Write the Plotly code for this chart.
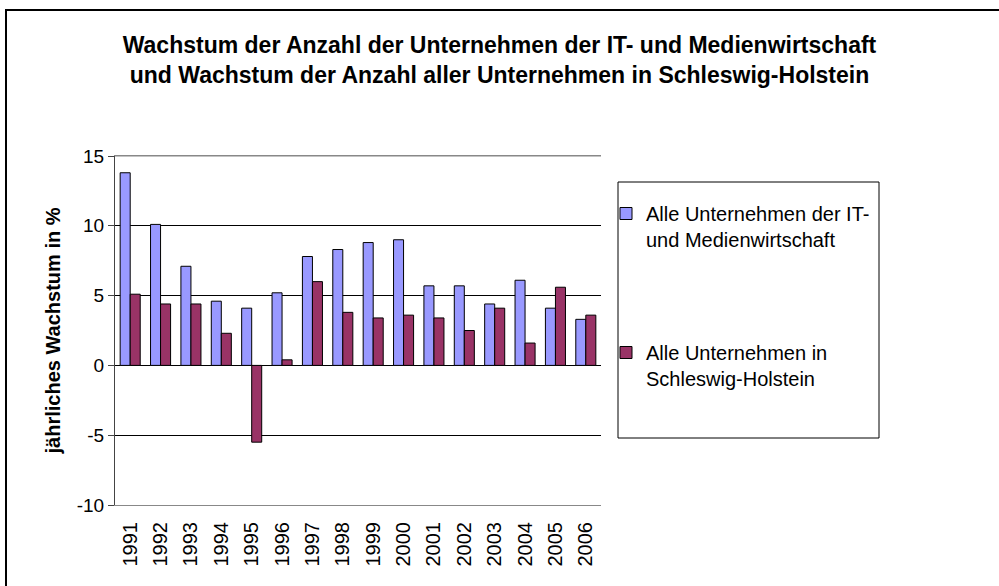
import plotly.graph_objects as go

# ---- data ----
years = ["1991", "1992", "1993", "1994", "1995", "1996", "1997", "1998",
         "1999", "2000", "2001", "2002", "2003", "2004", "2005", "2006"]
it_media = [13.8, 10.1, 7.1, 4.6, 4.1, 5.2, 7.8, 8.3, 8.8, 9.0, 5.7, 5.7, 4.4, 6.1, 4.1, 3.3]
sh_all = [5.1, 4.4, 4.4, 2.3, -5.5, 0.4, 6.0, 3.8, 3.4, 3.6, 3.4, 2.5, 4.1, 1.6, 5.6, 3.6]
y_ticks = [-10, -5, 0, 5, 10, 15]
y_tick_labels = ["-10", "-5", "0", "5", "10", "15"]
name_it = "Alle Unternehmen der IT-<br>und Medienwirtschaft"
name_sh = "Alle Unternehmen in<br>Schleswig-Holstein"
title_text = ("<b>Wachstum der Anzahl der Unternehmen der IT- und Medienwirtschaft<br>"
              "und Wachstum der Anzahl aller Unternehmen in Schleswig-Holstein</b>")
y_title = "<b>jährliches Wachstum in %</b>"

W, H = 999, 586
FONT = "Liberation Sans, Arial, sans-serif"
# plot area in pixels
PL, PR, PT, PB = 115, 601, 156, 505
xd = [PL / W, PR / W]
yd = [1 - PB / H, 1 - PT / H]
y0_paper = yd[0] + (0 - y_ticks[0]) / (y_ticks[-1] - y_ticks[0]) * (yd[1] - yd[0])

fig = go.Figure()
fig.add_trace(go.Bar(x=years, y=it_media, name=name_it, legendgroup="a",
                     marker=dict(color="#9999FF", line=dict(color="#000000", width=1))))
fig.add_trace(go.Bar(x=years, y=sh_all, name=name_sh, legendgroup="b",
                     marker=dict(color="#993366", line=dict(color="#000000", width=1))))

fig.update_layout(
    template="none",
    width=W, height=H, autosize=False,
    margin=dict(l=0, r=0, t=0, b=0),
    paper_bgcolor="white", plot_bgcolor="white",
    font=dict(family=FONT, size=19, color="black"),
    barmode="group", bargap=0.34, bargroupgap=0,
    title=dict(text=title_text, x=0.5, xanchor="center", y=1 - 53 / H, yanchor="middle",
               font=dict(family=FONT, size=23, color="black")),
    xaxis=dict(domain=xd, type="category", tickangle=-90, ticks="", showgrid=False,
               showline=True, linecolor="#888888", linewidth=1, mirror=True,
               automargin=False, tickfont=dict(size=20), zeroline=False,
               ticklabelstandoff=8),
    xaxis2=dict(overlaying="x", anchor="free", position=y0_paper, range=[0, 16],
                tickvals=list(range(17)), ticks="outside", ticklen=6, tickcolor="black",
                showticklabels=False, showline=True, linecolor="black", linewidth=1,
                showgrid=False, zeroline=False, automargin=False),
    yaxis=dict(domain=yd, range=[y_ticks[0], y_ticks[-1]], tickvals=y_ticks,
               ticktext=y_tick_labels,
               ticks="outside", ticklen=6, tickcolor="#444444",
               showline=True, linecolor="#444444", linewidth=1, mirror=False,
               showgrid=True, gridcolor="black", gridwidth=1, zeroline=False,
               automargin=False, tickfont=dict(size=19),
               title=dict(text=y_title, font=dict(size=20), standoff=10)),
    yaxis2=dict(overlaying="y", side="right", range=[y_ticks[0], y_ticks[-1]],
                showline=True, linecolor="#888888", showgrid=False, showticklabels=False,
                ticks="", zeroline=False, automargin=False),
    legend=dict(x=606 / W, xanchor="left", y=1 - 194 / H, yanchor="top",
                bgcolor="rgba(0,0,0,0)", borderwidth=0, traceorder="grouped",
                tracegroupgap=84, valign="top", font=dict(size=20)),
    showlegend=True,
)

# top grey border of plot area
fig.add_shape(type="line", xref="paper", yref="paper", x0=xd[0], x1=xd[1], y0=yd[1], y1=yd[1],
              line=dict(color="#888888", width=1))
# legend box
fig.add_shape(type="rect", xref="paper", yref="paper", x0=618 / W, x1=879 / W,
              y0=1 - 438 / H, y1=1 - 182 / H, line=dict(color="black", width=1))
# outer chart frame
fig.add_shape(type="rect", xref="paper", yref="paper", x0=6 / W, x1=1.02,
              y0=-0.05, y1=1 - 10 / H, line=dict(color="black", width=2))

fig.write_html("out.html", config={"displayModeBar": False},
               post_script="document.body.style.margin='0';document.body.style.overflow='hidden';")
